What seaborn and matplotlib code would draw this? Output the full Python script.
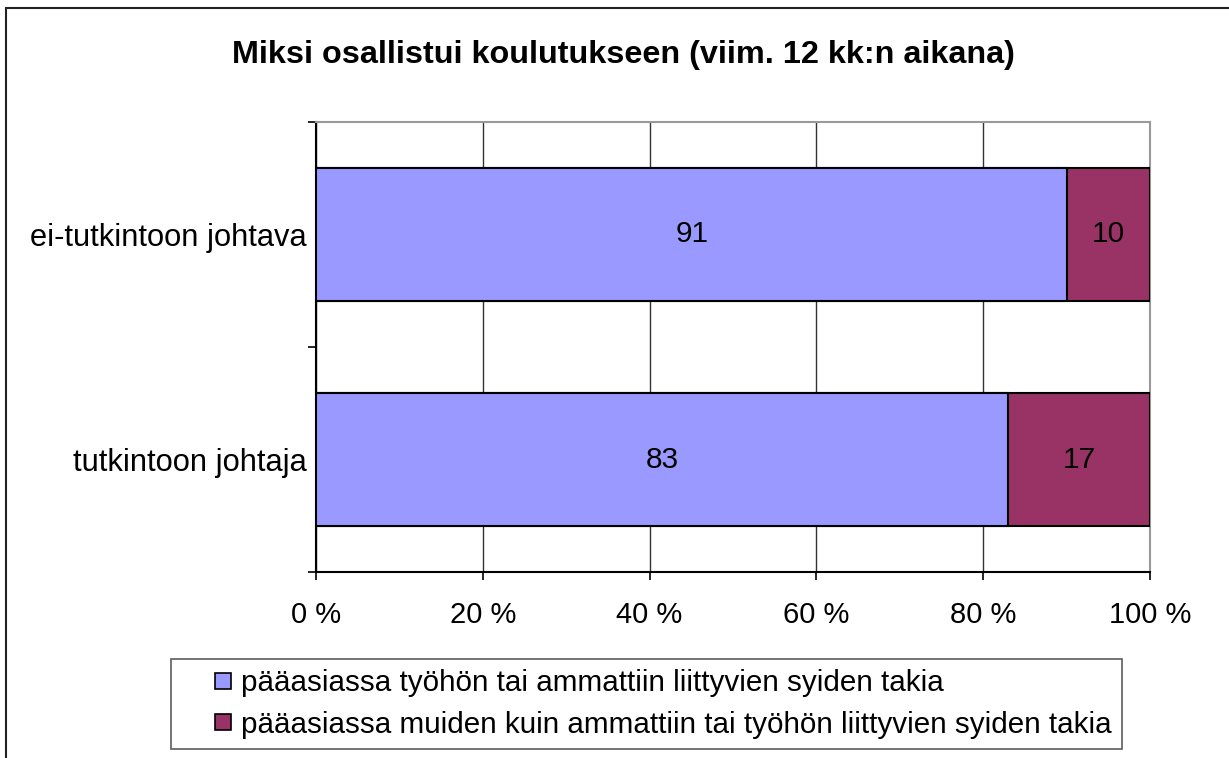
import matplotlib.pyplot as plt
import matplotlib.patches as mpatches
from matplotlib.lines import Line2D
import pandas as pd
import seaborn as sns

categories = ["ei-tutkintoon johtava", "tutkintoon johtaja"]
series_names = [
    "pääasiassa työhön tai ammattiin liittyvien syiden takia",
    "pääasiassa muiden kuin ammattiin tai työhön liittyvien syiden takia",
]
work_values = [91, 83]
other_values = [10, 17]
x_ticks = [0, 20, 40, 60, 80, 100]
x_tick_labels = ["0 %", "20 %", "40 %", "60 %", "80 %", "100 %"]
colors = ["#9999FF", "#993366"]

df = pd.DataFrame({"kategoria": categories, "tyo": work_values, "muu": other_values})
total = df["tyo"] + df["muu"]
df["tyo_pct"] = df["tyo"] / total * 100
df["yht_pct"] = (df["tyo"] + df["muu"]) / total * 100

sns.set_style("white")
plt.rcParams["font.family"] = ["Liberation Sans", "DejaVu Sans"]
plt.rcParams["text.color"] = "black"
plt.rcParams["xtick.color"] = "black"
plt.rcParams["ytick.color"] = "black"
plt.rcParams["axes.labelcolor"] = "black"

fig = plt.figure(figsize=(12.29, 7.58), dpi=100)
ax = fig.add_axes([316 / 1229, 1 - 572 / 758, 834 / 1229, 450 / 758])

# pinottu palkki: ensin koko pituus (muu), sitten työ päälle
sns.barplot(data=df, x="yht_pct", y="kategoria", orient="h", color=colors[1],
            saturation=1, width=0.587, edgecolor="black", linewidth=1.5, ax=ax, zorder=3)
sns.barplot(data=df, x="tyo_pct", y="kategoria", orient="h", color=colors[0],
            saturation=1, width=0.587, edgecolor="black", linewidth=1.5, ax=ax, zorder=4)

for i, row in df.iterrows():
    ax.text(row["tyo_pct"] / 2, i, str(row["tyo"]), ha="center", va="center",
            fontsize=21.5, color="black", zorder=5)
    ax.text((row["tyo_pct"] + row["yht_pct"]) / 2, i, str(row["muu"]), ha="center",
            va="center", fontsize=21.5, color="black", zorder=5)

ax.set_xlim(0, 100)
ax.set_ylim(1.5, -0.5)
ax.set_xticks(x_ticks, labels=x_tick_labels, fontsize=21)
ax.set_yticks([-0.5, 0.5, 1.5], labels=["", "", ""])
ax.set_yticks([0, 1], labels=categories, minor=True, fontsize=22.2)
ax.tick_params(axis="y", which="major", direction="out", length=6, width=1.2,
               color="black", left=True)
ax.tick_params(axis="y", which="minor", length=0, pad=7)
ax.tick_params(axis="x", direction="out", length=6, width=1.2, color="black",
               bottom=True, pad=15)
ax.set_xlabel("")
ax.set_ylabel("")

ax.grid(axis="x", color="#333333", linewidth=1, zorder=0)
ax.grid(axis="y", visible=False)
for side in ["left", "bottom"]:
    ax.spines[side].set_color("black")
    ax.spines[side].set_linewidth(1.5)
for side in ["top", "right"]:
    ax.spines[side].set_visible(True)
    ax.spines[side].set_color("#999999")
    ax.spines[side].set_linewidth(1.5)

fig.text(623 / 1229, 1 - 55 / 758, "Miksi osallistui koulutukseen (viim. 12 kk:n aikana)",
         ha="center", va="center", fontsize=23.3, fontweight="bold", color="black")

handles = [
    Line2D([], [], marker="s", markersize=11.5, markerfacecolor=c,
           markeredgecolor="black", markeredgewidth=1.2, linestyle="none")
    for c in colors
]
leg = fig.legend(handles, series_names, loc="upper left",
                 bbox_to_anchor=(171 / 1229, 1 - 659 / 758), fontsize=21.3,
                 frameon=True, fancybox=False, borderpad=0.35, handlelength=2.8,
                 handletextpad=-0.8, labelspacing=0.45, borderaxespad=0)
leg.get_frame().set_edgecolor("#333333")
leg.get_frame().set_linewidth(1.2)

frame = mpatches.Rectangle((6 / 1229, -0.05), 1.05, 1 - 8 / 758 + 0.05,
                           transform=fig.transFigure, fill=False,
                           edgecolor="#222222", linewidth=1.5)
fig.patches.append(frame)

fig.savefig("out.png", dpi=100)
